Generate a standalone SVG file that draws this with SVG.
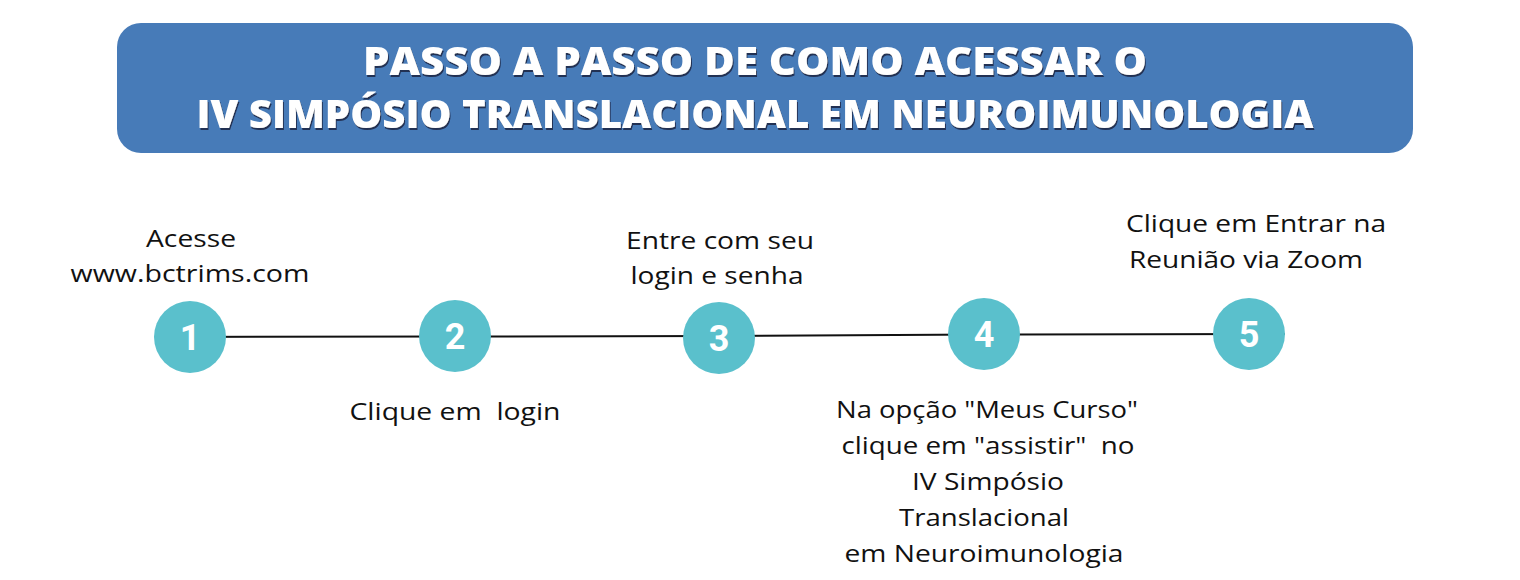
<svg xmlns="http://www.w3.org/2000/svg" width="1520" height="580" viewBox="0 0 1520 580">
<defs>
<filter id="sh" x="-5%" y="-20%" width="110%" height="150%">
<feDropShadow dx="1" dy="2" stdDeviation="0.6" flood-color="#1d2b4a" flood-opacity="0.9"/>
</filter>
<style>
.title{font-family:"Open Sans","Liberation Sans",sans-serif;font-weight:800;font-size:38px;fill:#ffffff;text-anchor:middle;}
.step{fill:#5ac0cc;}
.num{font-family:Roboto,"Liberation Sans",sans-serif;font-weight:700;font-size:36px;fill:#ffffff;text-anchor:middle;}
.lbl{font-family:"Open Sans","Liberation Sans",sans-serif;font-size:23px;fill:#111111;text-anchor:middle;}
.conn{stroke:#111111;stroke-width:2;fill:none;}
</style>
</defs>
<rect width="1520" height="580" fill="#ffffff"/>
<g id="header">
<rect x="117" y="23" width="1296" height="130" rx="24" fill="#477bb8"/>
<g filter="url(#sh)">
<text class="title" x="755" y="75" textLength="784" lengthAdjust="spacingAndGlyphs">PASSO A PASSO DE COMO ACESSAR O</text>
<text class="title" x="755" y="128" textLength="1117" lengthAdjust="spacingAndGlyphs">IV SIMPÓSIO TRANSLACIONAL EM NEUROIMUNOLOGIA</text>
</g>
</g>
<g id="connectors">
<path class="conn" d="M155 337 L455 336.5 L719 336 L984 334.5 L1285 334"/>
</g>
<g id="step1">
<circle class="step" cx="190" cy="337" r="36"/>
<text class="num" x="190" y="350">1</text>
<text class="lbl" x="191" y="247" textLength="90" lengthAdjust="spacingAndGlyphs">Acesse</text>
<text class="lbl" x="190" y="282" textLength="239" lengthAdjust="spacingAndGlyphs">www.bctrims.com</text>
</g>
<g id="step2">
<circle class="step" cx="455" cy="336" r="36"/>
<text class="num" x="455" y="349">2</text>
<text class="lbl" x="455" y="420" textLength="211" lengthAdjust="spacingAndGlyphs" xml:space="preserve">Clique em  login</text>
</g>
<g id="step3">
<circle class="step" cx="719" cy="338" r="36"/>
<text class="num" x="719" y="351">3</text>
<text class="lbl" x="720" y="249" textLength="188" lengthAdjust="spacingAndGlyphs">Entre com seu</text>
<text class="lbl" x="717" y="284" textLength="173" lengthAdjust="spacingAndGlyphs">login e senha</text>
</g>
<g id="step4">
<circle class="step" cx="984" cy="334" r="36"/>
<text class="num" x="984" y="347">4</text>
<text class="lbl" x="987" y="418" textLength="302" lengthAdjust="spacingAndGlyphs">Na opção "Meus Curso"</text>
<text class="lbl" x="988" y="454" textLength="293" lengthAdjust="spacingAndGlyphs" xml:space="preserve">clique em "assistir"  no</text>
<text class="lbl" x="988" y="490" textLength="152" lengthAdjust="spacingAndGlyphs">IV Simpósio</text>
<text class="lbl" x="984" y="526" textLength="170" lengthAdjust="spacingAndGlyphs">Translacional</text>
<text class="lbl" x="984" y="562" textLength="279" lengthAdjust="spacingAndGlyphs">em Neuroimunologia</text>
</g>
<g id="step5">
<circle class="step" cx="1249" cy="334" r="36"/>
<text class="num" x="1249" y="347">5</text>
<text class="lbl" x="1256" y="232" textLength="260" lengthAdjust="spacingAndGlyphs">Clique em Entrar na</text>
<text class="lbl" x="1246" y="268" textLength="234" lengthAdjust="spacingAndGlyphs">Reunião via Zoom</text>
</g>
</svg>
